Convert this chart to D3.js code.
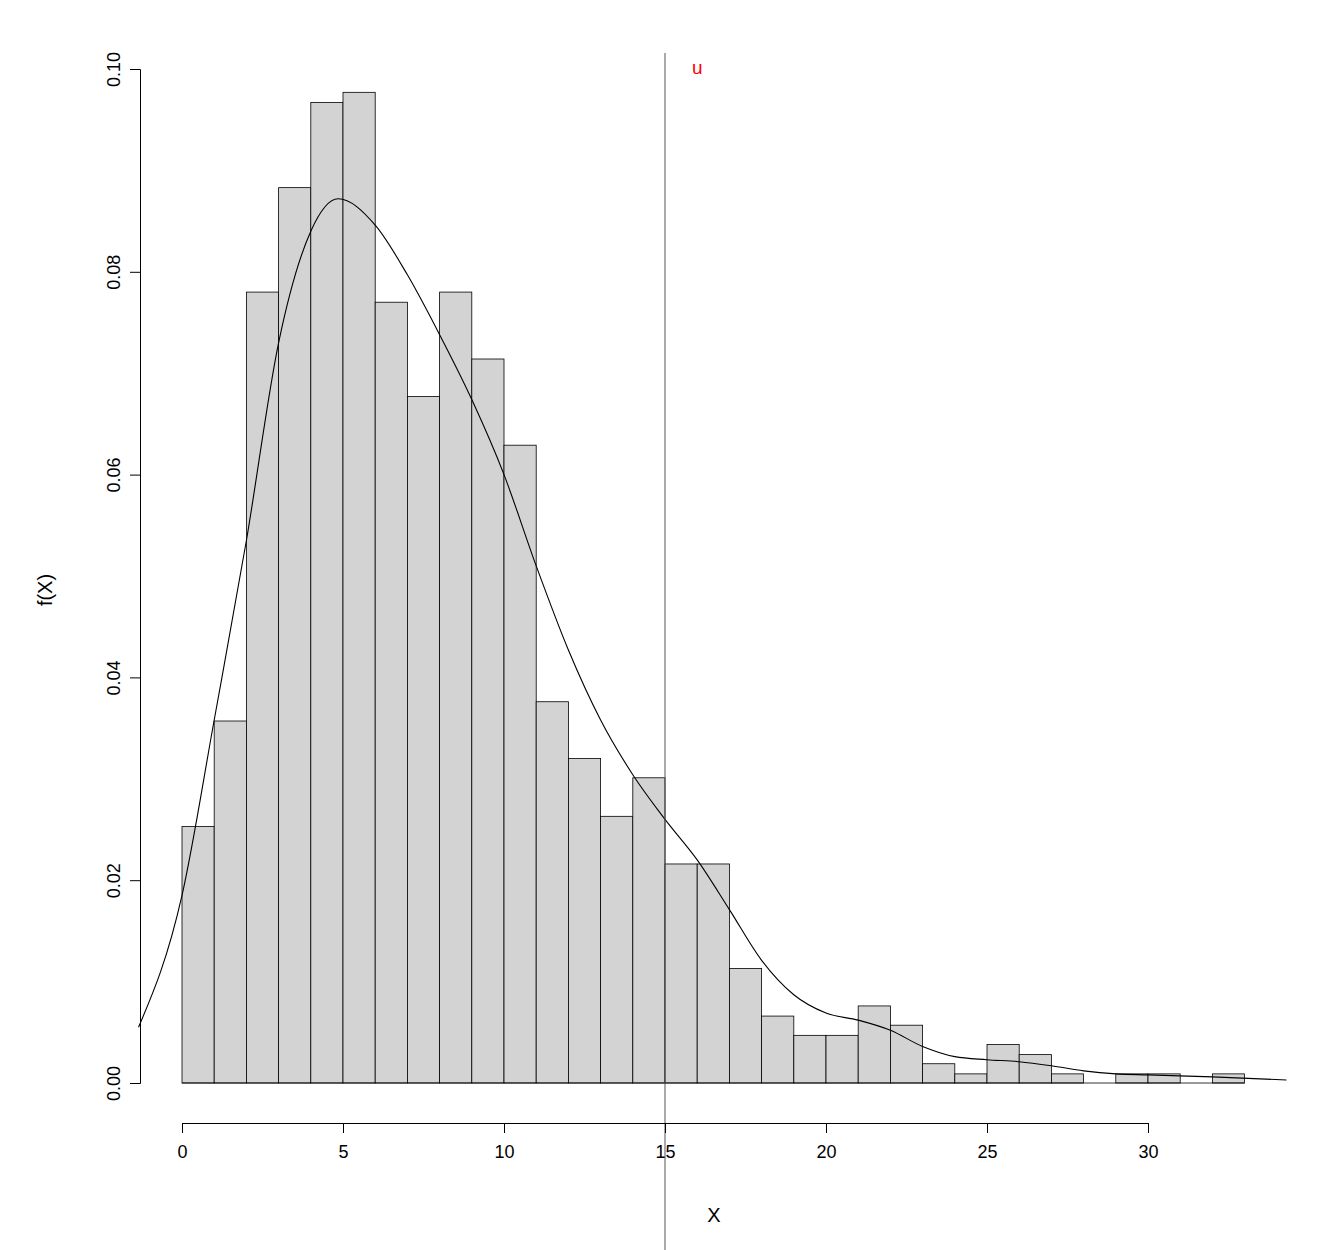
<!DOCTYPE html>
<html><head><meta charset="utf-8">
<script src="https://cdn.jsdelivr.net/npm/d3@7"></script>
<style>body{margin:0;background:#fff}text{font-family:Arial,"Liberation Sans",sans-serif}</style>
</head><body>
<script>
// histogram bins (width 1, starting at 0) and densities
var binStarts = d3.range(0, 33);
var densities = [0.0253,0.0357,0.078,0.0883,0.0967,0.0977,0.077,0.0677,0.078,0.0714,
	0.0629,0.0376,0.032,0.0263,0.0301,0.0216,0.0216,0.0113,0.0066,0.0047,
	0.0047,0.0076,0.0057,0.0019,0.0009,0.0038,0.0028,0.0009,0,0.0009,
	0.0009,0,0.0009];
// kernel density curve
var kdeX = [-1.35,0,1,2,3,4,4.85,6,7,8,9,10,11,12,13,14,15,16,17,18,19,20,21,22,23,24,25,26,27,28,29,30,32,34.3];
var kdeY = [0.0055,0.0185,0.0358,0.0535,0.073,0.084,0.0872,0.0846,0.0797,0.0738,0.0674,0.06,0.051,0.0427,0.0358,0.0304,0.026,0.022,0.0171,0.0121,0.0087,0.0069,0.0062,0.0052,0.0036,0.0026,0.0023,0.0021,0.0017,0.0012,0.0009,0.0008,0.0006,0.0003];
var xTicks = [0,5,10,15,20,25,30];
var yTicks = [0,0.02,0.04,0.06,0.08,0.10];
var threshold = 15;

var svg = d3.select("body").append("svg").attr("width",1322).attr("height",1250);
var x = d3.scaleLinear().domain([0,30]).range([182,1148]);
var y = d3.scaleLinear().domain([0,0.1]).range([1083,69]);

svg.selectAll("rect.bar").data(densities).enter().append("rect")
	.attr("x", function(d,i){ return x(binStarts[i]); })
	.attr("width", x(1)-x(0))
	.attr("y", function(d){ return y(d); })
	.attr("height", function(d){ return y(0)-y(d); })
	.attr("fill", function(d){ return d > 0 ? "#d3d3d3" : "none"; })
	.attr("stroke", function(d){ return d > 0 ? "#000" : "none"; })
	.attr("stroke-width", 0.8);
// baseline under bars
svg.append("line").attr("x1",x(0)).attr("x2",x(33)).attr("y1",y(0)).attr("y2",y(0)).attr("stroke","#000").attr("stroke-width",0.8);

svg.append("path")
	.datum(d3.zip(kdeX,kdeY))
	.attr("d", d3.line().x(function(d){return x(d[0]);}).y(function(d){return y(d[1]);}).curve(d3.curveMonotoneX))
	.attr("fill","none").attr("stroke","#000").attr("stroke-width",1.1);

svg.append("line").attr("x1",x(threshold)).attr("x2",x(threshold)).attr("y1",53).attr("y2",1250)
	.attr("stroke","#555").attr("stroke-width",1);
svg.append("text").attr("x",x(threshold+1)).attr("y",74).attr("text-anchor","middle")
	.attr("fill","red").attr("font-size",19).text("u");

var xa = svg.append("g").attr("transform","translate(0,1123)")
	.call(d3.axisBottom(x).tickValues(xTicks).tickSize(10).tickPadding(12).tickFormat(d3.format("d")));
var ya = svg.append("g").attr("transform","translate(140,0)")
	.call(d3.axisLeft(y).tickValues(yTicks).tickSize(10).tickFormat(d3.format(".2f")));
[xa,ya].forEach(function(a){
	a.select(".domain").attr("stroke","#000");
	a.selectAll("line").attr("stroke","#000");
	a.selectAll("text").attr("font-size",18).attr("fill","#000");
});
ya.selectAll(".tick text").attr("transform","rotate(-90)").attr("x",0).attr("y",-20)
	.attr("dy","0").attr("text-anchor","middle");
svg.append("text").attr("x",714).attr("y",1222).attr("text-anchor","middle").attr("font-size",20).text("X");
svg.append("text").attr("transform","translate(52,590) rotate(-90)").attr("text-anchor","middle").attr("font-size",20).text("f(X)");
</script>
</body></html>
